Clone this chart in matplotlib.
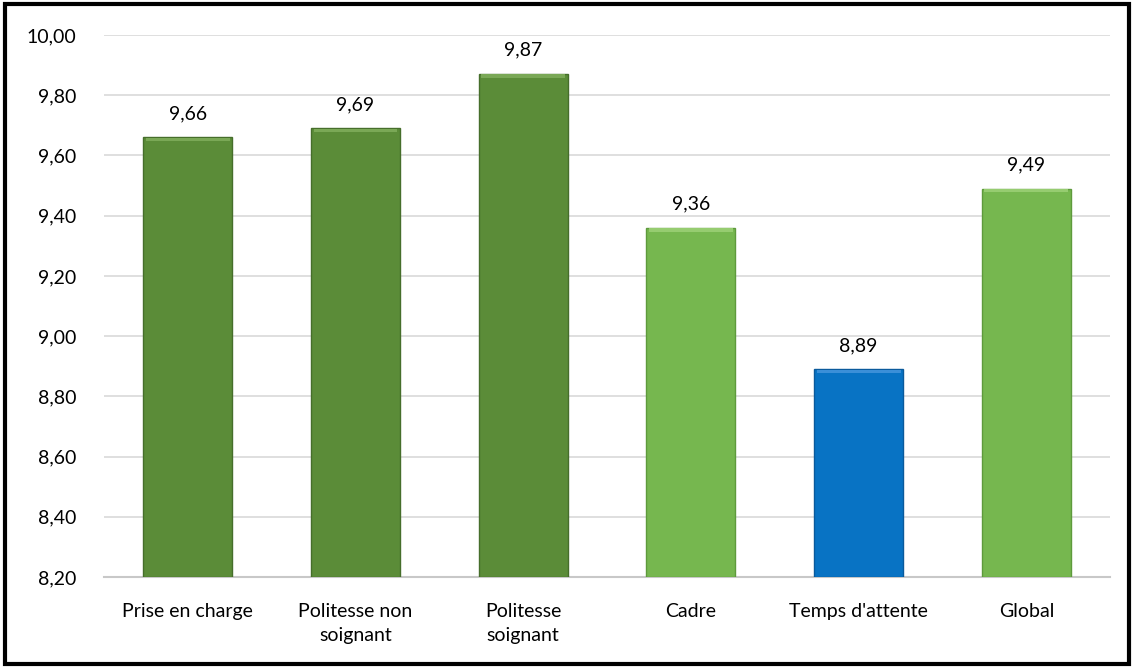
import matplotlib.pyplot as plt
from matplotlib.patches import Rectangle

categories = ["Prise en charge", "Politesse non\nsoignant", "Politesse\nsoignant",
              "Cadre", "Temps d'attente", "Global"]
scores = [9.66, 9.69, 9.87, 9.36, 8.89, 9.49]
colors = ["#5b8c38", "#5b8c38", "#5b8c38", "#76b74f", "#0873c4", "#76b74f"]
edges = ["#466e2b", "#466e2b", "#466e2b", "#5e9a3c", "#0a5a9c", "#5e9a3c"]
tops = ["#7aa856", "#7aa856", "#7aa856", "#96cc70", "#3a8fd8", "#96cc70"]
yticks = [8.2, 8.4, 8.6, 8.8, 9.0, 9.2, 9.4, 9.6, 9.8, 10.0]

plt.rcParams.update({"font.family": ["Lato", "DejaVu Sans"], "font.size": 14})

fig = plt.figure(figsize=(11.34, 6.68), dpi=100)
ax = fig.add_axes([0.0917, 0.1362, 0.8873, 0.8114])

x = range(len(categories))
bars = ax.bar(x, [s - 8.2 for s in scores], bottom=8.2, width=0.53,
              color=colors, edgecolor=edges, linewidth=1, zorder=3)
# lighter bevel strip at the top of each bar
ax.bar(x, [0.012] * len(scores), bottom=[s - 0.013 for s in scores], width=0.5,
       color=tops, linewidth=0, zorder=4)

for xi, s in zip(x, scores):
    ax.annotate(f"{s:.2f}".replace(".", ","), (xi, s), xytext=(0, 11),
                textcoords="offset points", ha="center", va="bottom", fontsize=14)

ax.set_xlim(-0.5, 5.5)
ax.set_ylim(8.2, 10.0)
ax.set_yticks(yticks)
ax.set_yticklabels([f"{t:.2f}".replace(".", ",") for t in yticks])
ax.set_xticks(list(x))
ax.set_xticklabels(categories, va="top", linespacing=1.5)
ax.grid(axis="y", color="#d9d9d9", lw=1.2, zorder=0)
ax.tick_params(axis="x", length=0, pad=19, labelsize=14)
ax.tick_params(axis="y", length=0, pad=20, labelsize=14)
for side in ["top", "right", "left"]:
    ax.spines[side].set_visible(False)
ax.spines["bottom"].set_color("#c8c8c8")
ax.spines["bottom"].set_linewidth(1.5)

fig.patches.append(Rectangle((0.004, 0.006), 0.992, 0.988, transform=fig.transFigure,
                             fill=False, edgecolor="black", linewidth=3))

plt.savefig("out.png", dpi=100)
